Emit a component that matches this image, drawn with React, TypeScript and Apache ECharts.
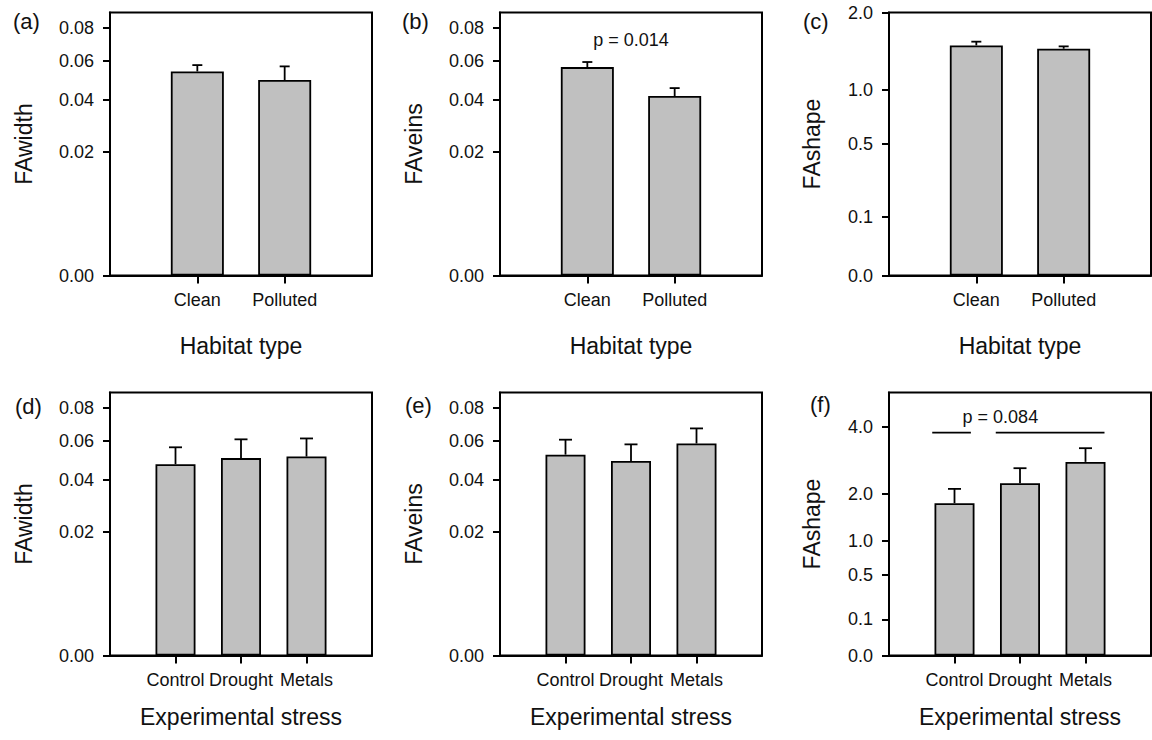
import React, { useEffect, useRef } from "react";
import * as echarts from "echarts";

// ---------- data ----------
const habitatCats = ["Clean", "Polluted"];
const stressCats = ["Control", "Drought", "Metals"];

const faWidthHabitatMean = [0.0542, 0.0497];
const faWidthHabitatUpper = [0.0576, 0.0569];
const faVeinsHabitatMean = [0.0565, 0.0419];
const faVeinsHabitatUpper = [0.0593, 0.0457];
const faShapeHabitatMean = [1.531, 1.487];
const faShapeHabitatUpper = [1.581, 1.518];

const faWidthStressMean = [0.0476, 0.0507, 0.0515];
const faWidthStressUpper = [0.0564, 0.0608, 0.0613];
const faVeinsStressMean = [0.0525, 0.0492, 0.0585];
const faVeinsStressUpper = [0.0606, 0.058, 0.0671];
const faShapeStressMean = [1.775, 2.271, 2.867];
const faShapeStressUpper = [2.123, 2.683, 3.287];

const faTickValues = [0, 0.02, 0.04, 0.06, 0.08];
const shapeHabitatTickValues = [0, 0.1, 0.5, 1.0, 2.0];
const shapeStressTickValues = [0, 0.1, 0.5, 1.0, 2.0, 4.0];

const panelLetters = ["(a)", "(b)", "(c)", "(d)", "(e)", "(f)"];
const yTitles = ["FAwidth", "FAveins", "FAshape", "FAwidth", "FAveins", "FAshape"];
const xTitles = [
  "Habitat type",
  "Habitat type",
  "Habitat type",
  "Experimental stress",
  "Experimental stress",
  "Experimental stress",
];
const yMaxes = [0.09, 0.09, 2.0, 0.09, 0.09, 5.29];

// annotations (data coordinates)
const pTextB = "p = 0.014";
const pTextBPos = [0.5, 0.0721];
const pTextF = "p = 0.084";
const pTextFPos = [0.7, 4.365];
const pLinesFX = [
  [-0.34, 0.25],
  [0.63, 2.29],
];
const pLineFY = 3.8;

// ---------- layout / style ----------
const FONT = "'Liberation Sans', Arial, Helvetica, sans-serif";
const INK = "#111";
const BAR_FILL = "#c0c0c0";
const colLeft = [110, 500, 889];
const rowTop = [12.5, 392.5];
const GW = 262;
const GH = 263;
const LW = 2;
const letterPos = [
  [13, 21.5],
  [402, 21.5],
  [803, 21.5],
  [15, 406],
  [405, 405],
  [810, 404],
];

export default function App() {
  const ref = useRef<HTMLDivElement>(null);

  useEffect(() => {
    document.body.style.margin = "0";
    if (!ref.current) return;
    const chart = echarts.init(ref.current, undefined, { renderer: "svg" });

    const panels = [
      { cats: habitatCats, mean: faWidthHabitatMean, upper: faWidthHabitatUpper, ticks: faTickValues, dec: 2 },
      { cats: habitatCats, mean: faVeinsHabitatMean, upper: faVeinsHabitatUpper, ticks: faTickValues, dec: 2 },
      { cats: habitatCats, mean: faShapeHabitatMean, upper: faShapeHabitatUpper, ticks: shapeHabitatTickValues, dec: 1 },
      { cats: stressCats, mean: faWidthStressMean, upper: faWidthStressUpper, ticks: faTickValues, dec: 2 },
      { cats: stressCats, mean: faVeinsStressMean, upper: faVeinsStressUpper, ticks: faTickValues, dec: 2 },
      { cats: stressCats, mean: faShapeStressMean, upper: faShapeStressUpper, ticks: shapeStressTickValues, dec: 1 },
    ];

    const lineStyle = { color: "#000", width: LW };
    const grids: any[] = [];
    const xAxes: any[] = [];
    const yAxes: any[] = [];
    const series: any[] = [];

    panels.forEach((p, i) => {
      const row = Math.floor(i / 3);
      const col = i % 3;
      const top = row === 0;
      grids.push({
        left: colLeft[col],
        top: rowTop[row],
        width: GW,
        height: GH,
        show: true,
        borderColor: "#000",
        borderWidth: LW,
        backgroundColor: "transparent",
        containLabel: false,
      });
      const catIdx = p.cats.map((_, k) => k);
      xAxes.push({
        gridIndex: i,
        type: "value",
        min: -1,
        max: p.cats.length,
        splitLine: { show: false },
        axisLine: { show: true, onZero: false, lineStyle },
        axisTick: { show: true, inside: false, length: 8, customValues: catIdx, lineStyle },
        axisLabel: {
          customValues: catIdx,
          formatter: (v: number) => p.cats[Math.round(v)] ?? "",
          margin: 15,
          fontSize: 18,
          color: INK,
          fontFamily: FONT,
        },
        name: xTitles[i],
        nameLocation: "middle",
        nameGap: top ? 59 : 50,
        nameTextStyle: { fontSize: 23, color: INK, fontFamily: FONT },
      });
      const tv = p.ticks.map((t) => Math.sqrt(t));
      yAxes.push({
        gridIndex: i,
        type: "value",
        min: 0,
        max: Math.sqrt(yMaxes[i]),
        splitLine: { show: false },
        axisLine: { show: true, onZero: false, lineStyle },
        axisTick: { show: true, inside: false, length: 7, customValues: tv, lineStyle },
        axisLabel: {
          customValues: tv,
          formatter: (v: number) => (v * v).toFixed(p.dec),
          margin: 16,
          fontSize: 18,
          color: INK,
          fontFamily: FONT,
        },
        name: yTitles[i],
        nameLocation: "middle",
        nameGap: col === 2 ? 66 : 75,
        nameTextStyle: { fontSize: 23, color: INK, fontFamily: FONT },
      });
      series.push({
        type: "bar",
        xAxisIndex: i,
        yAxisIndex: i,
        barWidth: top ? 53 : 40,
        data: p.mean.map((m, k) => [k, Math.sqrt(m)]),
        itemStyle: { color: BAR_FILL, borderColor: "#000", borderWidth: 1.8 },
        z: 2,
      });
      const cap = top ? 10 : 13;
      series.push({
        type: "custom",
        xAxisIndex: i,
        yAxisIndex: i,
        z: 3,
        encode: { x: 0, y: [1, 2] },
        data: p.mean.map((m, k) => [k, Math.sqrt(m), Math.sqrt(p.upper[k])]),
        renderItem: (params: any, api: any) => {
          const a = api.coord([api.value(0), api.value(1)]);
          const b = api.coord([api.value(0), api.value(2)]);
          return {
            type: "group",
            children: [
              { type: "line", shape: { x1: a[0], y1: a[1], x2: b[0], y2: b[1] }, style: { stroke: "#000", lineWidth: 1.8 } },
              { type: "line", shape: { x1: b[0] - cap / 2, y1: b[1], x2: b[0] + cap / 2, y2: b[1] }, style: { stroke: "#000", lineWidth: 1.8 } },
            ],
          };
        },
      });
    });

    // p-value texts
    const textSeries = (gi: number, pos: number[], text: string) => ({
      type: "custom",
      xAxisIndex: gi,
      yAxisIndex: gi,
      z: 4,
      silent: true,
      data: [[pos[0], Math.sqrt(pos[1])]],
      renderItem: (params: any, api: any) => {
        const c = api.coord([api.value(0), api.value(1)]);
        return {
          type: "text",
          x: c[0],
          y: c[1],
          style: { text, fontSize: 18, fill: INK, fontFamily: FONT, align: "center", verticalAlign: "middle" },
        };
      },
    });
    series.push(textSeries(1, pTextBPos, pTextB));
    series.push(textSeries(5, pTextFPos, pTextF));
    series.push({
      type: "custom",
      xAxisIndex: 5,
      yAxisIndex: 5,
      z: 4,
      silent: true,
      encode: { x: [0, 1], y: 2 },
      data: pLinesFX.map((s) => [s[0], s[1], Math.sqrt(pLineFY)]),
      renderItem: (params: any, api: any) => {
        const a = api.coord([api.value(0), api.value(2)]);
        const b = api.coord([api.value(1), api.value(2)]);
        return {
          type: "line",
          shape: { x1: a[0], y1: a[1], x2: b[0], y2: b[1] },
          style: { stroke: "#000", lineWidth: 1.8 },
        };
      },
    });

    chart.setOption({
      animation: false,
      backgroundColor: "#fff",
      textStyle: { fontFamily: FONT },
      grid: grids,
      xAxis: xAxes,
      yAxis: yAxes,
      series,
      graphic: panelLetters.map((t, i) => ({
        type: "text",
        x: letterPos[i][0],
        y: letterPos[i][1],
        style: { text: t, fontSize: 22, fill: INK, fontFamily: FONT, verticalAlign: "middle" },
      })),
    });

    return () => chart.dispose();
  }, []);

  return <div ref={ref} style={{ width: 1152, height: 740 }} />;
}
